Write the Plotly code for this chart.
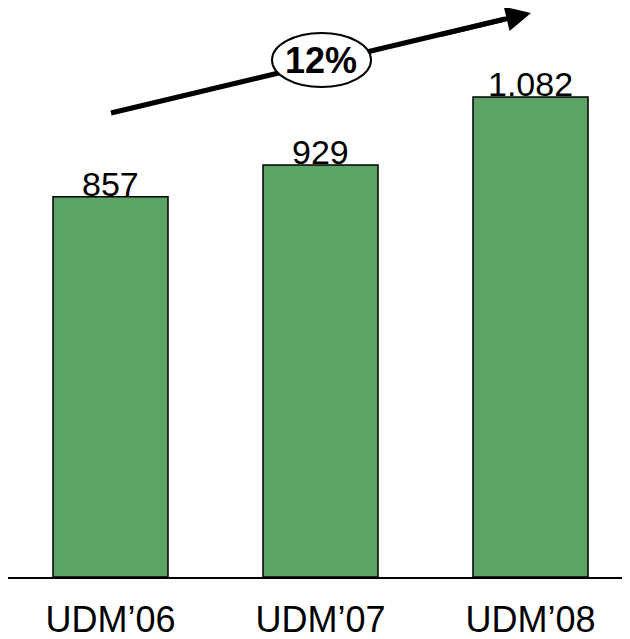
import plotly.graph_objects as go

categories = ["UDM\u201906", "UDM\u201907", "UDM\u201908"]
values = [857, 929, 1082]
growth_label = "12%"

x_pos = list(range(len(categories)))
OFF = 8  # page body margin
W, H = 630 - OFF, 639 - OFF
base_px = 577 - OFF
ml, mb = 0, H - base_px
px_per_unit = 0.4436
y_top = base_px / px_per_unit
cat_px = 210.0
c0 = 110.5 - OFF
x_left = (ml - c0) / cat_px
x_right = (W - c0) / cat_px

fig = go.Figure()
fig.add_trace(go.Bar(
    x=x_pos, y=values, width=115 / cat_px,
    marker=dict(color="#5CA366", line=dict(color="black", width=1.5)),
    hoverinfo="skip",
))

for xi, v in zip(x_pos, values):
    fig.add_annotation(
        x=xi, y=v, xref="x", yref="y", text=f"{v:,}".replace(",", "."),
        showarrow=False, yanchor="bottom", yshift=-8,
        font=dict(family="Liberation Sans, Arial, sans-serif", size=34, color="black"),
    )

def py(p):
    return (base_px - (p - OFF)) / px_per_unit

def pxx(p):
    return (p - OFF - c0) / cat_px

# growth arrow line (under ellipse)
fig.add_shape(type="line", xref="x", yref="y",
              x0=pxx(111), y0=py(113), x1=pxx(505), y1=py(19),
              line=dict(color="black", width=5))
fig.add_shape(type="circle", xref="x", yref="y",
              x0=pxx(272), x1=pxx(371), y0=py(87), y1=py(33),
              line=dict(color="black", width=2), fillcolor="white")
fig.add_annotation(x=pxx(531), y=py(13), ax=pxx(440), ay=py(34.7),
                   xref="x", yref="y", axref="x", ayref="y",
                   text="", showarrow=True, arrowhead=2, arrowsize=1,
                   arrowwidth=5, arrowcolor="black")
fig.add_annotation(x=pxx(321), y=py(60), xref="x", yref="y", text=f"<b>{growth_label}</b>",
                   showarrow=False,
                   font=dict(family="Liberation Sans, Arial, sans-serif", size=36, color="black"))

fig.update_layout(
    width=W, height=H,
    margin=dict(l=ml, r=0, t=0, b=mb, autoexpand=False),
    plot_bgcolor="white", paper_bgcolor="white",
    showlegend=False,
    xaxis=dict(range=[x_left, x_right], tickvals=x_pos, ticktext=categories,
               showgrid=False, zeroline=False, showline=True, linecolor="black", linewidth=2,
               ticks="", ticklabelstandoff=10, automargin=False,
               tickfont=dict(family="Liberation Sans, Arial, sans-serif", size=36, color="black")),
    yaxis=dict(range=[0, y_top], visible=False, showgrid=False, zeroline=False, automargin=False),
)

fig.write_html("out.html")
